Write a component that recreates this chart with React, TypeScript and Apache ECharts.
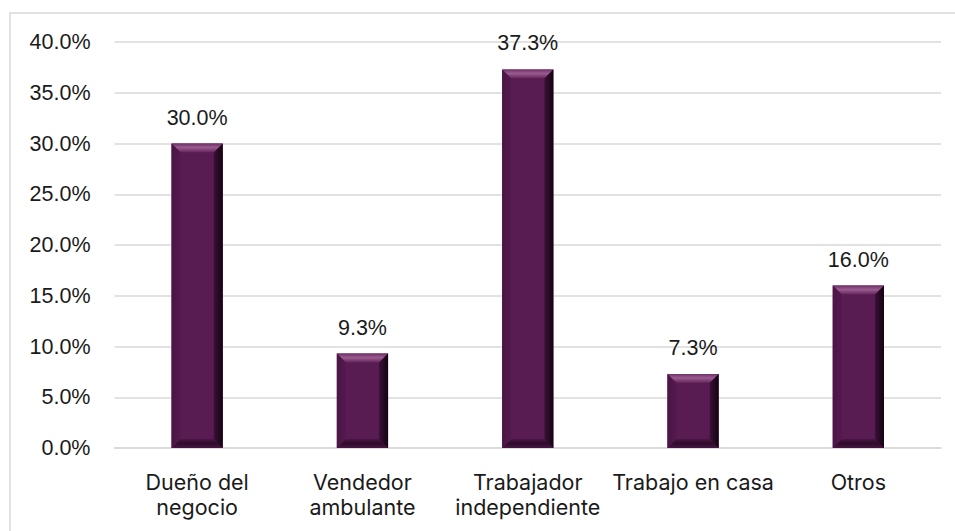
import React, { useEffect, useRef } from "react";
import * as echarts from "echarts";

const categories = ["Dueño del\nnegocio", "Vendedor\nambulante", "Trabajador\nindependiente", "Trabajo en casa", "Otros"];
const values = [30.0, 9.3, 37.3, 7.3, 16.0];
const yMin = 0;
const yMax = 40;
const yInterval = 5;

const BASE = "#581c52";

export default function App() {
  const ref = useRef<HTMLDivElement>(null);
  useEffect(() => {
    if (!ref.current) return;
    const chart = echarts.init(ref.current, null, { renderer: "svg" });
    const numFont = "'Liberation Sans', Arial, sans-serif";
    const catFont = "Inter, 'Noto Sans', sans-serif";
    chart.setOption({
      animation: false,
      backgroundColor: "#ffffff",
      grid: { left: 114.5, right: 14, top: 42, bottom: 83, containLabel: false },
      graphic: [
        {
          type: "rect",
          shape: { x: 10, y: 13, width: 1000, height: 600 },
          style: { fill: "none", stroke: "#d9d9d9", lineWidth: 1.5 },
          silent: true,
          z: -10,
        },
      ],
      xAxis: {
        type: "category",
        data: categories,
        axisTick: { show: false },
        axisLine: { lineStyle: { color: "#d9d9d9", width: 1.5 } },
        axisLabel: {
          interval: 0,
          color: "#1a1a1a",
          fontFamily: catFont,
          fontSize: 21.5,
          lineHeight: 25,
          margin: 21,
          verticalAlign: "top",
        },
      },
      yAxis: {
        type: "value",
        min: yMin,
        max: yMax,
        interval: yInterval,
        axisLine: { show: false },
        axisTick: { show: false },
        splitLine: { lineStyle: { color: "#d9d9d9", width: 1.5 } },
        axisLabel: {
          color: "#1a1a1a",
          fontFamily: numFont,
          fontSize: 21.5,
          margin: 24,
          formatter: (v: number) => v.toFixed(1) + "%",
        },
      },
      series: [
        {
          type: "bar",
          data: values,
          barWidth: "31%",
          itemStyle: { color: BASE },
          label: {
            show: true,
            position: "top",
            distance: 15,
            color: "#1a1a1a",
            fontFamily: numFont,
            fontSize: 21.5,
            formatter: (p: any) => Number(p.value).toFixed(1) + "%",
          },
          z: 2,
        },
        {
          type: "custom",
          data: values.map((v, i) => [i, v]),
          z: 3,
          silent: true,
          renderItem: (params: any, api: any) => {
            const idx = api.value(0);
            const val = api.value(1);
            const top = api.coord([idx, val]);
            const bot = api.coord([idx, 0]);
            const band = api.size([1, 0])[0];
            const w = band * 0.31;
            const x0 = top[0] - w / 2;
            const x1 = top[0] + w / 2;
            const y0 = top[1];
            const y1 = bot[1];
            const b = Math.min(9, (y1 - y0) / 2);
            return {
              type: "group",
              children: [
                {
                  type: "polygon",
                  shape: { points: [[x0, y0], [x1, y0], [x1 - b, y0 + b], [x0 + b, y0 + b]] },
                  style: {
                    fill: new echarts.graphic.LinearGradient(0, 0, 0, 1, [
                      { offset: 0, color: "#6e3066" },
                      { offset: 0.45, color: "#9a5c90" },
                      { offset: 1, color: "#62245a" },
                    ]),
                  },
                },
                {
                  type: "polygon",
                  shape: { points: [[x0, y1], [x1, y1], [x1 - b, y1 - b], [x0 + b, y1 - b]] },
                  style: {
                    fill: new echarts.graphic.LinearGradient(0, 0, 0, 1, [
                      { offset: 0, color: "#4a1644" },
                      { offset: 0.5, color: "#2e0c2a" },
                      { offset: 1, color: "#4a1644" },
                    ]),
                  },
                },
                {
                  type: "polygon",
                  shape: { points: [[x0, y0], [x0 + b, y0 + b], [x0 + b, y1 - b], [x0, y1]] },
                  style: {
                    fill: new echarts.graphic.LinearGradient(0, 0, 1, 0, [
                      { offset: 0, color: "#4a1545" },
                      { offset: 1, color: "#54194e" },
                    ]),
                  },
                },
                {
                  type: "polygon",
                  shape: { points: [[x1, y0], [x1 - b, y0 + b], [x1 - b, y1 - b], [x1, y1]] },
                  style: {
                    fill: new echarts.graphic.LinearGradient(0, 0, 1, 0, [
                      { offset: 0, color: "#3c1038" },
                      { offset: 1, color: "#12040f" },
                    ]),
                  },
                },
              ],
            };
          },
        },
      ],
    });
    return () => chart.dispose();
  }, []);
  return (
    <div
      ref={ref}
      style={{ position: "fixed", left: 0, top: 0, width: 955, height: 531, background: "#fff" }}
    />
  );
}
